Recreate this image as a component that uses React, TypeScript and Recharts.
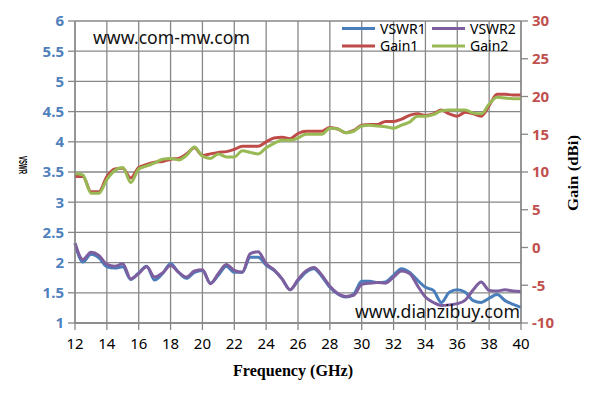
import React from 'react';
import { LineChart, Line, XAxis, YAxis, CartesianGrid } from 'recharts';

const freqs = [
  12, 12.5, 13, 13.5, 14, 14.5, 15, 15.5, 16, 16.5, 17, 17.5, 18, 18.5, 19, 19.5,
  20, 20.5, 21, 21.5, 22, 22.5, 23, 23.5, 24, 24.5, 25, 25.5, 26, 26.5, 27, 27.5,
  28, 28.5, 29, 29.5, 30, 30.5, 31, 31.5, 32, 32.5, 33, 33.5, 34, 34.5, 35, 35.5,
  36, 36.5, 37, 37.5, 38, 38.5, 39, 39.5, 40,
];

const vswr1 = [
  2.32, 2.01, 2.14, 2.08, 1.93, 1.91, 1.93, 1.72, 1.83, 1.94, 1.71, 1.82, 1.98, 1.84, 1.74, 1.84,
  1.87, 1.66, 1.79, 1.94, 1.84, 1.84, 2.09, 2.09, 1.96, 1.87, 1.73, 1.55, 1.70, 1.84, 1.90, 1.77,
  1.59, 1.48, 1.43, 1.48, 1.69, 1.69, 1.67, 1.68, 1.79, 1.90, 1.84, 1.71, 1.59, 1.54, 1.34, 1.51,
  1.55, 1.51, 1.37, 1.34, 1.41, 1.47, 1.37, 1.31, 1.26,
];

const vswr2 = [
  2.32, 2.05, 2.17, 2.12, 1.97, 1.94, 1.98, 1.73, 1.82, 1.93, 1.76, 1.83, 1.95, 1.84, 1.76, 1.86,
  1.88, 1.65, 1.82, 1.97, 1.87, 1.84, 2.15, 2.18, 1.98, 1.88, 1.73, 1.55, 1.72, 1.86, 1.92, 1.79,
  1.61, 1.49, 1.44, 1.46, 1.64, 1.66, 1.67, 1.66, 1.76, 1.86, 1.82, 1.62, 1.43, 1.34, 1.29, 1.30,
  1.32, 1.38, 1.55, 1.68, 1.54, 1.53, 1.55, 1.53, 1.52,
];

const gain1 = [
  9.4, 9.4, 7.4, 7.4, 9.4, 10.4, 10.5, 9.2, 10.6, 11.0, 11.3, 11.4, 11.7, 11.8, 12.4, 13.2,
  12.2, 12.4, 12.6, 12.7, 13.0, 13.4, 13.4, 13.4, 14.0, 14.5, 14.6, 14.4, 15.1, 15.4, 15.4, 15.4,
  15.9, 15.7, 15.2, 15.5, 16.2, 16.3, 16.3, 16.7, 16.7, 17.0, 17.5, 17.7, 17.5, 17.7, 18.2, 17.7,
  17.4, 17.9, 17.7, 17.4, 18.8, 20.3, 20.3, 20.2, 20.2,
];

const gain2 = [
  9.8, 9.6, 7.2, 7.2, 9.0, 10.2, 10.6, 8.6, 10.4, 10.8, 11.2, 11.7, 11.8, 11.6, 12.2, 13.3,
  12.1, 11.8, 12.4, 12.0, 12.0, 12.8, 12.6, 12.4, 13.2, 13.8, 14.2, 14.2, 14.5, 15.0, 15.0, 15.0,
  15.8, 15.7, 15.2, 15.4, 16.1, 16.2, 16.1, 16.0, 15.8, 16.2, 16.6, 17.4, 17.4, 17.6, 18.1, 18.2,
  18.2, 18.2, 17.8, 17.7, 19.0, 19.9, 19.8, 19.7, 19.7,
];

const xTicks = [12, 14, 16, 18, 20, 22, 24, 26, 28, 30, 32, 34, 36, 38, 40];
const vswrTicks = [1, 1.5, 2, 2.5, 3, 3.5, 4, 4.5, 5, 5.5, 6];
const gainTicks = [-10, -5, 0, 5, 10, 15, 20, 25, 30];

const series = [
  { key: 'vswr1', name: 'VSWR1', color: '#4A7EBB', axis: 'left' },
  { key: 'vswr2', name: 'VSWR2', color: '#7D5FA0', axis: 'left' },
  { key: 'gain1', name: 'Gain1', color: '#BE4B48', axis: 'right' },
  { key: 'gain2', name: 'Gain2', color: '#98B954', axis: 'right' },
];

const rows = freqs.map((f, i) => ({
  f,
  vswr1: vswr1[i],
  vswr2: vswr2[i],
  gain1: gain1[i],
  gain2: gain2[i],
}));

const gridColor = '#878787';
const sans = '"Noto Sans", sans-serif';
const serif = '"Liberation Serif", serif';

export default function App() {
  return (
    <div style={{ position: 'absolute', left: 0, top: 0, width: 595, height: 404, background: '#fff' }}>
      <LineChart width={595} height={404} data={rows} margin={{ top: 21, right: 0, left: 0, bottom: 0 }}>
        <CartesianGrid yAxisId="left" stroke={gridColor} strokeWidth={1.3} />
        <XAxis
          dataKey="f"
          type="number"
          domain={[12, 40]}
          ticks={xTicks}
          interval={0}
          height={81}
          tickSize={7}
          tickMargin={8}
          axisLine={{ stroke: gridColor, strokeWidth: 1.3 }}
          tickLine={{ stroke: gridColor, strokeWidth: 1.3 }}
          tick={{ fill: '#000', fontSize: 15, fontFamily: sans }}
        />
        <YAxis
          yAxisId="left"
          domain={[1, 6]}
          ticks={vswrTicks}
          interval={0}
          width={75}
          tickSize={7}
          tickMargin={4}
          axisLine={{ stroke: gridColor, strokeWidth: 1.3 }}
          tickLine={{ stroke: gridColor, strokeWidth: 1.3 }}
          tick={{ fill: '#4F81BD', fontSize: 15, fontWeight: 700, fontFamily: sans }}
        />
        <YAxis
          yAxisId="right"
          orientation="right"
          domain={[-10, 30]}
          ticks={gainTicks}
          interval={0}
          width={74}
          tickSize={7}
          tickMargin={4}
          axisLine={{ stroke: gridColor, strokeWidth: 1.3 }}
          tickLine={{ stroke: gridColor, strokeWidth: 1.3 }}
          tick={{ fill: '#C0504D', fontSize: 15, fontWeight: 700, fontFamily: sans }}
        />
        {series.map((s) => (
          <Line
            key={s.key}
            yAxisId={s.axis}
            dataKey={s.key}
            name={s.name}
            type="monotone"
            stroke={s.color}
            strokeWidth={3}
            dot={false}
            activeDot={false}
            isAnimationActive={false}
          />
        ))}
      </LineChart>

      {/* titles, watermarks and legend drawn over the chart */}
      <svg width={595} height={404} style={{ position: 'absolute', left: 0, top: 0, pointerEvents: 'none' }}>
        <text x={93} y={44} fontFamily={sans} fontSize={18} textLength={157} lengthAdjust="spacingAndGlyphs" fill="#111">
          www.com-mw.com
        </text>
        <text x={355} y={318} fontFamily={sans} fontSize={18} textLength={165} lengthAdjust="spacingAndGlyphs" fill="#111">
          www.dianzibuy.com
        </text>
        <text
          transform="translate(22.5,165) rotate(90)"
          textAnchor="middle"
          dominantBaseline="central"
          fontFamily='"Liberation Sans", sans-serif'
          fontWeight={700}
          fontSize={11}
          textLength={18}
          lengthAdjust="spacingAndGlyphs"
        >
          VSWR
        </text>
        <text
          transform="translate(572.5,173) rotate(-90)"
          textAnchor="middle"
          dominantBaseline="central"
          fontFamily={serif}
          fontWeight={700}
          fontSize={15}
          textLength={76}
          lengthAdjust="spacingAndGlyphs"
        >
          Gain (dBi)
        </text>
        <text
          x={293}
          y={376}
          textAnchor="middle"
          fontFamily={serif}
          fontWeight={700}
          fontSize={16}
          textLength={120}
          lengthAdjust="spacingAndGlyphs"
        >
          Frequency (GHz)
        </text>
        {series.map((s, i) => {
          const col = i % 2;
          const row = Math.floor(i / 2);
          const lx = 342 + col * 90;
          const ly = 28.5 + row * 17.5;
          return (
            <g key={s.key}>
              <line x1={lx} x2={lx + 33} y1={ly} y2={ly} stroke={s.color} strokeWidth={3} />
              <text x={lx + 38} y={ly + 5} fontFamily={sans} fontSize={14} fill="#000">
                {s.name}
              </text>
            </g>
          );
        })}
      </svg>
    </div>
  );
}
